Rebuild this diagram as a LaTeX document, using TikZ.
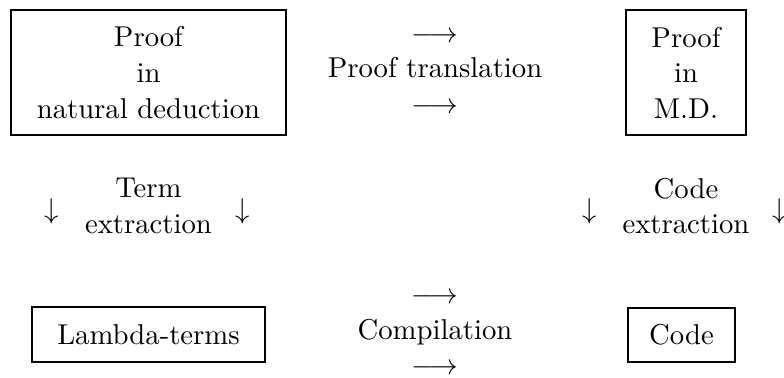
\documentclass[tikz,border=0pt]{standalone}
\begin{document}
% one unit = one pixel of the 784 x 377 layout, with text at 10pt design size
\def\u{0.3484pt}
\begin{tikzpicture}[x=\u,y=-\u,
  every node/.style={inner sep=0pt, align=center, font=\fontsize{10}{12.4}\selectfont},
  frame/.style={draw, line width=0.85pt}]
\useasboundingbox (0,0) rectangle (784,377);

% top row
\node[frame, minimum width={275*\u}, minimum height={125*\u}] (nd) at (148.5,72.5)
  {Proof\\in\\natural deduction};
\node (trans) at (435,72.5) {$\longrightarrow$\\Proof translation\\$\longrightarrow$};
\node[frame, minimum width={120*\u}, minimum height={125*\u}] (md) at (686,72.5)
  {Proof\\in\\M.D.};

% middle row
\node (dl1) at (52,211) {$\downarrow$};
\node (term) at (148.5,206) {Term\\extraction};
\node (dl2) at (243,211) {$\downarrow$};
\node (dr1) at (590,211) {$\downarrow$};
\node (code) at (686,206) {Code\\extraction};
\node (dr2) at (780,211) {$\downarrow$};

% bottom row
\node[frame, minimum width={233*\u}, minimum height={55*\u}] (lam) at (148.5,334.5)
  {Lambda-terms};
\node (comp) at (435,334) {$\longrightarrow$\\Compilation\\$\longrightarrow$};
\node[frame, minimum width={107*\u}, minimum height={54*\u}] (cd) at (681.5,335)
  {Code};
\end{tikzpicture}
\end{document}
